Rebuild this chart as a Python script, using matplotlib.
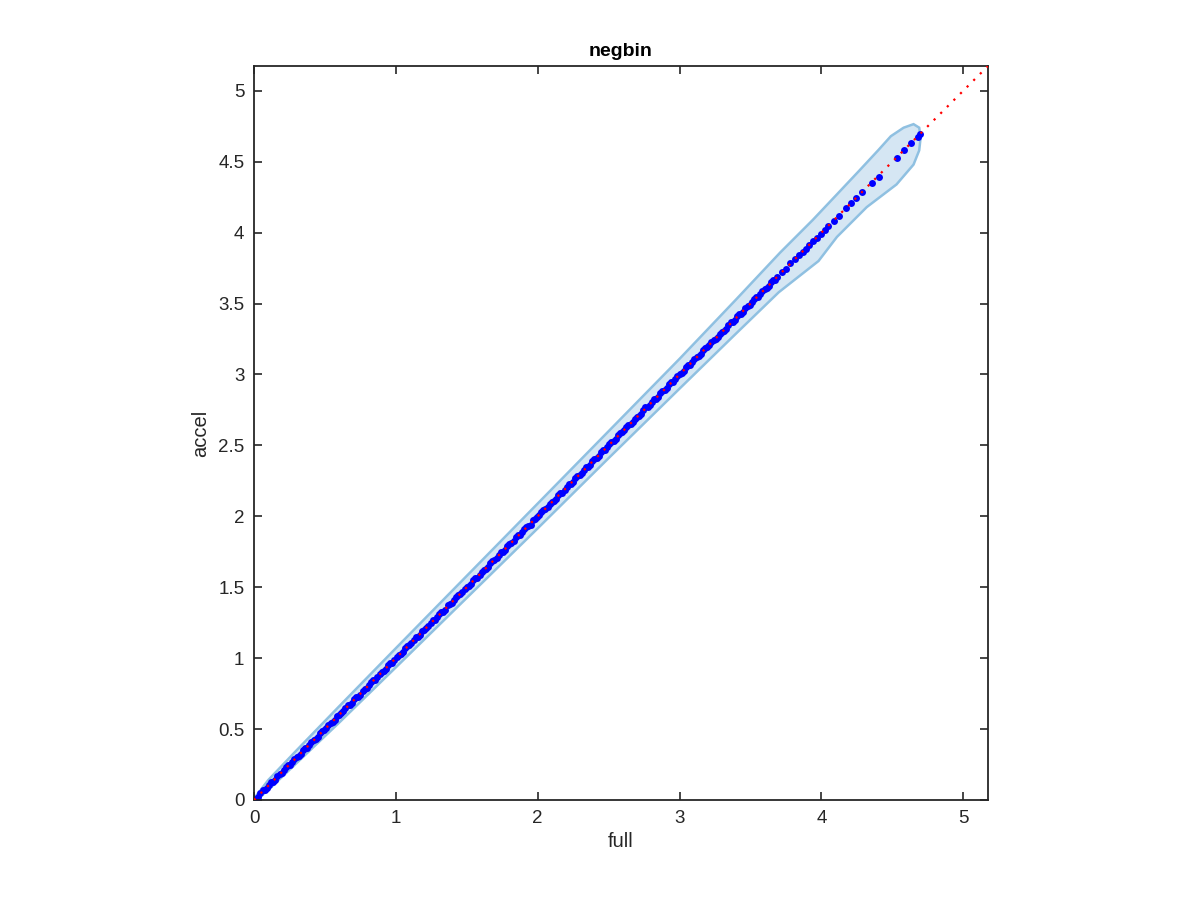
import matplotlib
matplotlib.use("Agg")
import matplotlib.pyplot as plt

plt.rcParams['font.family'] = ['Liberation Sans', 'DejaVu Sans']

# ---- data ----
full = [0.00, 0.03, 0.06, 0.09, 0.12, 0.15, 0.18, 0.21, 0.24, 0.27,
        0.30, 0.33, 0.36, 0.39, 0.42, 0.45, 0.48, 0.51, 0.54, 0.57,
        0.60, 0.63, 0.66, 0.69, 0.72, 0.75, 0.78, 0.81, 0.84, 0.87,
        0.90, 0.93, 0.96, 0.99, 1.02, 1.05, 1.08, 1.11, 1.14, 1.17,
        1.20, 1.23, 1.26, 1.29, 1.32, 1.35, 1.38, 1.41, 1.44, 1.47,
        1.50, 1.53, 1.56, 1.59, 1.62, 1.65, 1.68, 1.71, 1.74, 1.77,
        1.80, 1.83, 1.86, 1.89, 1.92, 1.95, 1.98, 2.01, 2.04, 2.07,
        2.10, 2.13, 2.16, 2.19, 2.22, 2.25, 2.28, 2.31, 2.34, 2.37,
        2.40, 2.43, 2.46, 2.49, 2.52, 2.55, 2.58, 2.61, 2.64, 2.67,
        2.70, 2.73, 2.76, 2.79, 2.82, 2.85, 2.88, 2.91, 2.94, 2.97,
        3.00, 3.03, 3.06, 3.09, 3.12, 3.15, 3.18, 3.21, 3.24, 3.27,
        3.30, 3.33, 3.36, 3.39, 3.42, 3.45, 3.48, 3.51, 3.54, 3.57,
        3.60, 3.63, 3.66, 3.69, 3.72, 3.75, 3.78,
        3.815, 3.843, 3.869, 3.891, 3.916, 3.944, 3.968, 3.996, 4.027,
        4.048, 4.088, 4.123, 4.175, 4.210, 4.245, 4.290, 4.356, 4.403,
        4.532, 4.586, 4.633, 4.678, 4.697]
accel = [0.002, 0.024, 0.068, 0.087, 0.125, 0.142, 0.184, 0.208, 0.246, 0.265,
         0.302, 0.324, 0.368, 0.387, 0.425, 0.442, 0.484, 0.508, 0.546, 0.565,
         0.602, 0.624, 0.668, 0.687, 0.725, 0.742, 0.784, 0.808, 0.846, 0.865,
         0.902, 0.924, 0.968, 0.987, 1.025, 1.042, 1.084, 1.108, 1.146, 1.165,
         1.202, 1.224, 1.268, 1.287, 1.325, 1.342, 1.384, 1.408, 1.446, 1.465,
         1.502, 1.524, 1.568, 1.587, 1.625, 1.642, 1.684, 1.708, 1.746, 1.765,
         1.802, 1.824, 1.868, 1.887, 1.925, 1.942, 1.984, 2.008, 2.046, 2.065,
         2.102, 2.124, 2.168, 2.187, 2.225, 2.242, 2.284, 2.308, 2.346, 2.365,
         2.402, 2.424, 2.468, 2.487, 2.525, 2.542, 2.584, 2.608, 2.646, 2.665,
         2.702, 2.724, 2.768, 2.787, 2.825, 2.842, 2.884, 2.908, 2.946, 2.965,
         3.002, 3.024, 3.068, 3.087, 3.125, 3.142, 3.184, 3.208, 3.246, 3.265,
         3.302, 3.324, 3.368, 3.387, 3.425, 3.442, 3.484, 3.508, 3.546, 3.565,
         3.602, 3.624, 3.668, 3.687, 3.725, 3.742, 3.784,
         3.815, 3.840, 3.866, 3.885, 3.913, 3.939, 3.962, 3.991, 4.021,
         4.045, 4.085, 4.120, 4.171, 4.207, 4.242, 4.286, 4.350, 4.394,
         4.526, 4.582, 4.629, 4.671, 4.695]

# additional points filling the dense core between the ones above
full_mid = [0.015, 0.045, 0.075, 0.105, 0.135, 0.165, 0.195, 0.225, 0.255, 0.285,
            0.315, 0.345, 0.375, 0.405, 0.435, 0.465, 0.495, 0.525, 0.555, 0.585,
            0.615, 0.645, 0.675, 0.705, 0.735, 0.765, 0.795, 0.825, 0.855, 0.885,
            0.915, 0.945, 0.975, 1.005, 1.035, 1.065, 1.095, 1.125, 1.155, 1.185,
            1.215, 1.245, 1.275, 1.305, 1.335, 1.365, 1.395, 1.425, 1.455, 1.485,
            1.515, 1.545, 1.575, 1.605, 1.635, 1.665, 1.695, 1.725, 1.755, 1.785,
            1.815, 1.845, 1.875, 1.905, 1.935, 1.965, 1.995, 2.025, 2.055, 2.085,
            2.115, 2.145, 2.175, 2.205, 2.235, 2.265, 2.295, 2.325, 2.355, 2.385,
            2.415, 2.445, 2.475, 2.505, 2.535, 2.565, 2.595, 2.625, 2.655, 2.685,
            2.715, 2.745, 2.775, 2.805, 2.835, 2.865, 2.895, 2.925, 2.955, 2.985,
            3.015, 3.045, 3.075, 3.105, 3.135, 3.165, 3.195, 3.225, 3.255, 3.285,
            3.315, 3.345, 3.375, 3.405, 3.435, 3.465, 3.495, 3.525, 3.555, 3.585,
            3.615, 3.645, 3.675]
accel_mid = [0.010, 0.051, 0.068, 0.109, 0.129, 0.172, 0.192, 0.230, 0.249, 0.289,
             0.310, 0.351, 0.368, 0.409, 0.429, 0.472, 0.492, 0.530, 0.549, 0.589,
             0.610, 0.651, 0.668, 0.709, 0.729, 0.772, 0.792, 0.830, 0.849, 0.889,
             0.910, 0.951, 0.968, 1.009, 1.029, 1.072, 1.092, 1.130, 1.149, 1.189,
             1.210, 1.251, 1.268, 1.309, 1.329, 1.372, 1.392, 1.430, 1.449, 1.489,
             1.510, 1.551, 1.568, 1.609, 1.629, 1.672, 1.692, 1.730, 1.749, 1.789,
             1.810, 1.851, 1.868, 1.909, 1.929, 1.972, 1.992, 2.030, 2.049, 2.089,
             2.110, 2.151, 2.168, 2.209, 2.229, 2.272, 2.292, 2.330, 2.349, 2.389,
             2.410, 2.451, 2.468, 2.509, 2.529, 2.572, 2.592, 2.630, 2.649, 2.689,
             2.710, 2.751, 2.768, 2.809, 2.829, 2.872, 2.892, 2.930, 2.949, 2.989,
             3.010, 3.051, 3.068, 3.109, 3.129, 3.172, 3.192, 3.230, 3.249, 3.289,
             3.310, 3.351, 3.368, 3.409, 3.429, 3.472, 3.492, 3.530, 3.549, 3.589,
             3.610, 3.651, 3.668]

# density contour outline (upper edge then lower edge back down)
band_upper_full = [0.00, 0.10, 0.30, 0.60, 1.00, 1.50, 2.00, 2.50, 3.00, 3.40,
                   3.71, 3.94, 4.11, 4.27, 4.40, 4.49, 4.58, 4.65, 4.69, 4.70]
band_upper_accel = [0.01, 0.14, 0.35, 0.66, 1.07, 1.58, 2.09, 2.60, 3.11, 3.53,
                    3.86, 4.09, 4.27, 4.44, 4.58, 4.68, 4.74, 4.765, 4.74, 4.67]
band_lower_full = [4.69, 4.65, 4.53, 4.32, 4.11, 3.98, 3.70, 3.40, 3.00, 2.50,
                   2.00, 1.50, 1.00, 0.60, 0.30, 0.10, 0.02]
band_lower_accel = [4.58, 4.48, 4.34, 4.18, 3.97, 3.80, 3.58, 3.29, 2.90, 2.41,
                    1.915, 1.425, 0.935, 0.545, 0.26, 0.07, 0.00]

ref_line = [0.0, 5.2]
axis_max = 5.175
xtick_vals = [0, 1, 2, 3, 4, 5]
xtick_labels = ['0', '1', '2', '3', '4', '5']
ytick_vals = [0, 0.5, 1, 1.5, 2, 2.5, 3, 3.5, 4, 4.5, 5]
ytick_labels = ['0', '0.5', '1', '1.5', '2', '2.5', '3', '3.5', '4', '4.5', '5']

# ---- figure ----
fig = plt.figure(figsize=(12, 9), dpi=100)
ax = fig.add_axes([254 / 1200, 100 / 900, 734 / 1200, 734 / 900])

band_x = band_upper_full + band_lower_full
band_y = band_upper_accel + band_lower_accel
ax.fill(band_x, band_y, facecolor='#d5e6f3', edgecolor='#8fc0e1', linewidth=1.8, zorder=1)

ax.plot(full, accel, linestyle='none', marker='o', markersize=5.0,
        color='#0000ff', markeredgewidth=0, zorder=2)
ax.plot(full_mid, accel_mid, linestyle='none', marker='o', markersize=5.0,
        color='#0000ff', markeredgewidth=0, zorder=2)

ax.plot(ref_line, ref_line, linestyle=(0, (1, 3.2)), color='#ff0000',
        linewidth=1.6, zorder=3)

ax.set_xlim(0, axis_max)
ax.set_ylim(0, axis_max)
ax.set_xticks(xtick_vals)
ax.set_xticklabels(xtick_labels)
ax.set_yticks(ytick_vals)
ax.set_yticklabels(ytick_labels)

ax.tick_params(direction='in', length=6, width=1.2, colors='#262626',
               top=True, right=True, labelsize=13.5, pad=7)
for sp in ax.spines.values():
    sp.set_color('#262626')
    sp.set_linewidth(1.3)

ax.set_xlabel('full', fontsize=14.5, color='#262626', labelpad=4)
ax.set_ylabel('accel', fontsize=14.5, color='#262626', labelpad=6)
ax.set_title('negbin', fontsize=14, fontweight='bold', color='#000000', pad=7)

fig.savefig('out.png', dpi=100)
